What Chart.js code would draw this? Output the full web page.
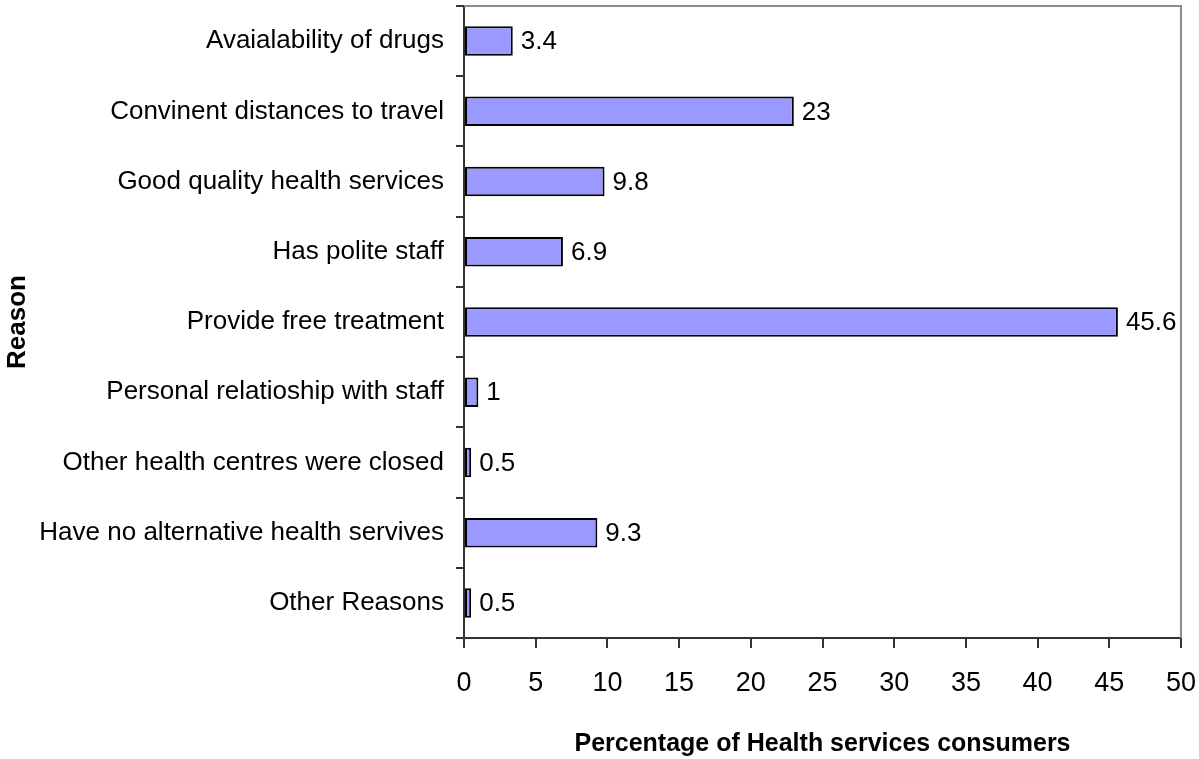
<!DOCTYPE html>
<html>
<head>
<meta charset="utf-8">
<script src="https://cdn.jsdelivr.net/npm/chart.js@4/dist/chart.umd.min.js"></script>
<style>
  html, body { margin: 0; padding: 0; background: #ffffff; }
  #wrap { width: 1199px; height: 759px; }
</style>
</head>
<body>
<div id="wrap"><canvas id="myChart" width="1199" height="759"></canvas></div>
<script>
const reasons = [
    'Avaialability of drugs',
    'Convinent distances to travel',
    'Good quality health services',
    'Has polite staff',
    'Provide free treatment',
    'Personal relatioship with staff',
    'Other health centres were closed',
    'Have no alternative health servives',
    'Other Reasons'
];
const percents = [3.4, 23, 9.8, 6.9, 45.6, 1, 0.5, 9.3, 0.5];
const xTicks = [0, 5, 10, 15, 20, 25, 30, 35, 40, 45, 50];

const FONT = '"Liberation Sans Narrow", "Liberation Sans", Arial, sans-serif';

// value labels at the end of each bar
const valueLabels = {
    id: 'valueLabels',
    afterDatasetsDraw(chart) {
        const ctx = chart.ctx;
        const meta = chart.getDatasetMeta(0);
        ctx.save();
        ctx.font = '26px ' + FONT;
        ctx.fillStyle = '#000';
        ctx.textAlign = 'left';
        ctx.textBaseline = 'middle';
        meta.data.forEach((bar, i) => {
            ctx.fillText(String(percents[i]), bar.x + 8, bar.y + 1);
        });
        ctx.restore();
    }
};

// grey frame on top and right of plot area
const frame = {
    id: 'frame',
    beforeDatasetsDraw(chart) {
        const a = chart.chartArea;
        const ctx = chart.ctx;
        ctx.save();
        ctx.strokeStyle = '#8c8c8c';
        ctx.lineWidth = 2;
        ctx.beginPath();
        ctx.moveTo(a.left, a.top);
        ctx.lineTo(a.right, a.top);
        ctx.lineTo(a.right, a.bottom);
        ctx.stroke();
        ctx.restore();
    }
};

const data = {
    labels: reasons,
    datasets: [{
        label: 'Percentage',
        data: percents,
        backgroundColor: '#9999FF',
        borderColor: '#000000',
        borderWidth: 2,
        borderSkipped: false,
        barPercentage: 0.42,
        categoryPercentage: 1
    }]
};

const config = {
    type: 'bar',
    data: data,
    options: {
        indexAxis: 'y',
        responsive: false,
        animation: false,
        layout: { padding: { top: 6, right: 18, left: 0, bottom: 0 } },
        plugins: {
            legend: { display: false },
            tooltip: { enabled: false }
        },
        scales: {
            x: {
                min: 0,
                max: 50,
                afterBuildTicks(scale) {
                    scale.ticks = xTicks.map(v => ({ value: v }));
                },
                afterFit(scale) {
                    scale.height = 121;
                    scale.paddingLeft = 0;
                    scale.paddingRight = 0;
                },
                grid: {
                    drawOnChartArea: false,
                    drawTicks: true,
                    tickLength: 10,
                    color: '#333',
                    lineWidth: 2
                },
                border: { display: true, color: '#333', width: 2 },
                ticks: {
                    color: '#000',
                    font: { family: FONT, size: 27 },
                    padding: 19,
                    maxRotation: 0
                },
                title: {
                    display: true,
                    text: 'Percentage of Health services consumers',
                    color: '#000',
                    font: { family: FONT, size: 25, weight: 'bold' },
                    padding: { top: 20, bottom: 0 }
                }
            },
            y: {
                afterFit(scale) {
                    scale.width = 464;
                    scale.paddingTop = 0;
                    scale.paddingBottom = 0;
                },
                grid: {
                    offset: true,
                    drawOnChartArea: false,
                    drawTicks: true,
                    tickLength: 8,
                    color: '#333',
                    lineWidth: 2
                },
                border: { display: true, color: '#333', width: 2 },
                ticks: {
                    color: '#000',
                    font: { family: FONT, size: 26 },
                    padding: 12,
                    autoSkip: false
                },
                title: {
                    display: true,
                    text: 'Reason',
                    color: '#000',
                    font: { family: FONT, size: 26, weight: 'bold' },
                    padding: { top: 2, bottom: 0 }
                }
            }
        }
    },
    plugins: [frame, valueLabels]
};

new Chart(document.getElementById('myChart'), config);
</script>
</body>
</html>
